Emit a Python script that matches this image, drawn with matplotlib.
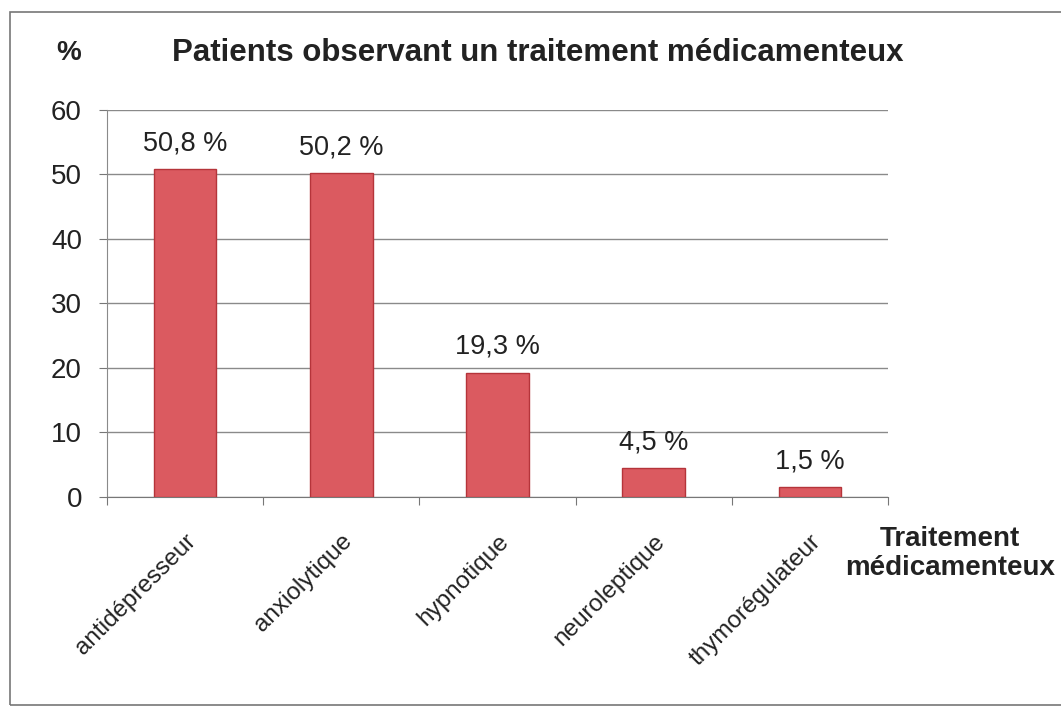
import matplotlib.pyplot as plt
from matplotlib.patches import Rectangle
from matplotlib.transforms import ScaledTranslation

categories = ["antidépresseur", "anxiolytique", "hypnotique", "neuroleptique", "thymorégulateur"]
values = [50.8, 50.2, 19.3, 4.5, 1.5]
value_labels = ["50,8 %", "50,2 %", "19,3 %", "4,5 %", "1,5 %"]
y_ticks = [0, 10, 20, 30, 40, 50, 60]

plt.rcParams['font.family'] = ['Liberation Sans', 'DejaVu Sans']

fig = plt.figure(figsize=(10.61, 7.12), dpi=100)
ax = fig.add_axes([0.1008, 0.302, 0.7362, 0.5435])

# outer frame of the chart area
fig.patches.append(Rectangle((0.009, 0.01), 0.992, 0.973, transform=fig.transFigure,
                             fill=False, edgecolor='#777777', linewidth=1.2))

x = list(range(len(categories)))
bars = ax.bar(x, values, width=0.4, color='#DB5A60', edgecolor='#B5343A', linewidth=1.0, zorder=3)

for xi, v, lab in zip(x, values, value_labels):
    ax.text(xi, v + 2.0, lab, ha='center', va='bottom', fontsize=19.5, color='#222222')

ax.set_xlim(-0.5, len(categories) - 0.5)
ax.set_ylim(0, 60)
ax.set_yticks(y_ticks)
ax.set_yticklabels([str(t) for t in y_ticks], fontsize=20, color='#222222')
ax.yaxis.grid(True, color='#8a8a8a', linewidth=1.0, zorder=0)
ax.set_axisbelow(True)

# category ticks sit at the boundaries
ax.set_xticks([i - 0.5 for i in range(len(categories) + 1)], minor=False)
ax.set_xticklabels([])
ax.set_xticks(x, minor=True)
ax.set_xticklabels(categories, minor=True, rotation=45, ha='right', va='top',
                   rotation_mode='anchor', fontsize=17.5, color='#222222')
shift = ScaledTranslation(-0.08, 0, fig.dpi_scale_trans)
for lbl in ax.get_xticklabels(minor=True):
    lbl.set_transform(lbl.get_transform() + shift)
ax.tick_params(axis='x', which='minor', length=0, pad=24)
ax.tick_params(axis='x', which='major', length=6, color='#777777', direction='out')
ax.tick_params(axis='y', length=6, color='#777777', direction='out', pad=12)

for side in ['top', 'right']:
    ax.spines[side].set_visible(False)
ax.spines['left'].set_color('#8a8a8a')
ax.spines['bottom'].set_color('#777777')

fig.text(0.0646, 0.926, "%", fontsize=20, fontweight='bold', ha='center', va='center', color='#222222')
fig.text(0.5066, 0.926, "Patients observant un traitement médicamenteux", fontsize=22.5,
         fontweight='bold', ha='center', va='center', color='#222222')
fig.text(0.895, 0.223, "Traitement\nmédicamenteux", fontsize=20, fontweight='bold',
         ha='center', va='center', color='#222222', linespacing=1.15)

fig.savefig('out.png', dpi=100)
